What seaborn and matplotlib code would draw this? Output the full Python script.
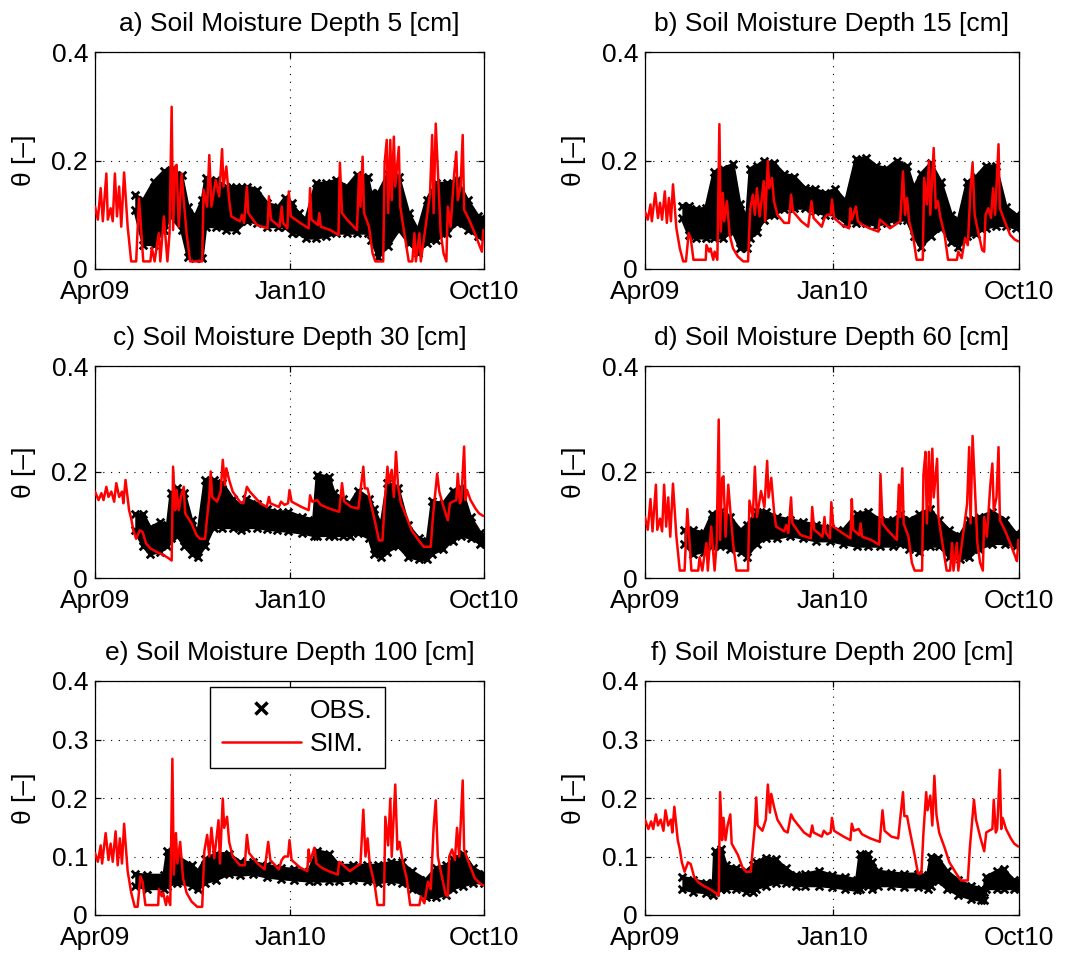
import numpy as np
import pandas as pd
import matplotlib
matplotlib.use("Agg")
import matplotlib.pyplot as plt
import matplotlib.dates as mdates
from matplotlib.lines import Line2D
from matplotlib.ticker import FuncFormatter
import seaborn as sns

# ---------------- data (days since 2009-04-01, soil moisture theta [-]) ----------------
# Simulated series (identical for depth pairs 5/60, 15/100 and 30/200 cm in the figure)
sim_ad_days = [0, 4, 8, 11, 16, 18, 22, 25, 28, 31, 34, 37, 41, 46, 51, 58, 62, 68, 78, 80,
               84, 87, 90, 92, 97, 102, 105, 108, 110, 113, 115, 118, 122, 125, 129, 134, 151, 153, 158, 161,
               164, 170, 175, 179, 181, 185, 189, 192, 204, 207, 210, 214, 216, 228, 243, 245, 248, 260, 263, 265,
               271, 273, 276, 289, 301, 303, 305, 314, 316, 318, 331, 343, 345, 348, 355, 369, 372, 374, 377, 379,
               386, 391, 395, 406, 408, 411, 413, 416, 418, 421, 423, 428, 430, 435, 442, 447, 450, 452, 457, 459,
               467, 472, 475, 477, 480, 484, 487, 491, 495, 497, 501, 506, 509, 511, 515, 518, 520, 527, 535, 542,
               545, 547]
sim_ad_vals = [.115, .091, .149, .088, .176, .091, .112, .088, .176, .097, .152, .078, .178, .078, .014, .014, .130, .014, .014, .039,
               .014, .042, .066, .014, .097, .014, .066, .299, .072, .189, .192, .078, .176, .127, .066, .014, .014, .146, .115, .210,
               .115, .164, .134, .221, .152, .189, .127, .097, .088, .100, .085, .152, .103, .081, .075, .134, .091, .078, .115, .085,
               .075, .143, .097, .085, .075, .149, .091, .081, .103, .078, .072, .063, .196, .103, .091, .072, .176, .115, .207, .103,
               .078, .029, .014, .014, .195, .238, .103, .238, .127, .244, .152, .225, .115, .072, .014, .014, .066, .014, .066, .014,
               .091, .140, .247, .103, .268, .152, .066, .029, .014, .115, .078, .176, .216, .127, .152, .247, .109, .091, .066, .042,
               .032, .072]

sim_be_days = [0, 4, 8, 10, 15, 19, 22, 25, 29, 32, 35, 38, 41, 46, 51, 56, 60, 64, 67, 71,
               89, 90, 94, 96, 100, 102, 106, 109, 111, 114, 116, 120, 124, 129, 136, 144, 151, 154, 158, 161,
               164, 168, 174, 176, 180, 182, 186, 189, 194, 204, 211, 214, 217, 229, 239, 244, 247, 259, 263, 267,
               272, 274, 277, 289, 299, 301, 303, 309, 312, 319, 329, 342, 344, 347, 359, 374, 378, 381, 384, 387,
               394, 398, 407, 409, 413, 416, 418, 423, 426, 429, 433, 439, 444, 457, 459, 464, 469, 473, 477, 480,
               483, 487, 494, 497, 499, 503, 507, 510, 513, 518, 520, 527, 535, 542, 547]
sim_be_vals = [.106, .091, .119, .088, .140, .094, .122, .091, .143, .085, .131, .088, .156, .075, .038, .014, .014, .066, .057, .017,
               .017, .044, .032, .038, .017, .032, .017, .267, .069, .140, .088, .125, .063, .038, .023, .014, .014, .109, .137, .100,
               .149, .097, .162, .088, .199, .149, .168, .125, .100, .085, .085, .137, .106, .088, .078, .125, .094, .078, .094, .100,
               .100, .128, .094, .081, .075, .112, .091, .115, .088, .081, .075, .069, .091, .088, .075, .088, .180, .100, .131, .088,
               .051, .017, .017, .168, .119, .199, .100, .223, .112, .125, .094, .063, .017, .017, .032, .020, .057, .044, .149, .196,
               .100, .075, .035, .032, .100, .112, .094, .149, .100, .230, .112, .088, .063, .054, .051]

sim_cf_days = [0, 5, 9, 12, 16, 19, 23, 27, 30, 34, 38, 40, 43, 48, 51, 54, 58, 63, 67, 72,
               78, 87, 97, 104, 108, 110, 113, 115, 118, 121, 125, 127, 136, 143, 148, 155, 158, 161, 163, 165,
               172, 177, 180, 183, 185, 189, 194, 204, 209, 214, 218, 233, 242, 245, 247, 259, 262, 267, 272, 274,
               277, 291, 301, 303, 306, 313, 318, 330, 344, 348, 351, 361, 371, 378, 380, 384, 388, 395, 400, 405,
               408, 412, 414, 418, 421, 424, 427, 431, 439, 446, 456, 463, 473, 476, 482, 485, 491, 497, 500, 504,
               509, 511, 514, 516, 520, 522, 524, 529, 536, 541, 547]
sim_cf_vals = [.163, .147, .160, .147, .172, .153, .163, .144, .179, .153, .163, .141, .185, .128, .112, .090, .074, .090, .087, .065,
               .056, .049, .043, .037, .033, .210, .128, .166, .128, .153, .172, .122, .103, .081, .074, .074, .115, .153, .201, .153,
               .144, .163, .223, .175, .207, .185, .163, .144, .141, .172, .163, .141, .134, .153, .141, .134, .144, .138, .141, .166,
               .144, .134, .128, .156, .144, .147, .138, .131, .125, .179, .144, .134, .131, .210, .169, .169, .144, .103, .071, .071,
               .141, .210, .179, .204, .153, .238, .172, .141, .115, .090, .071, .059, .059, .115, .197, .163, .134, .109, .141, .144,
               .147, .197, .141, .147, .248, .147, .166, .147, .131, .122, .117]

# Observations: upper / lower envelope of the dense observation band
obs_a_days = [56, 68, 83, 97, 107, 122, 131, 141, 151, 156, 170, 185, 199, 214, 228, 243, 258, 267, 277, 287,
              297, 311, 326, 340, 355, 369, 384, 389, 399, 413, 428, 442, 455, 467, 481, 496, 510, 525, 540, 552]
obs_a_hi = [.137, .127, .161, .180, .183, .174, .115, .097, .127, .167, .164, .152, .152, .152, .146, .121, .115, .130, .121, .103,
            .091, .158, .158, .164, .152, .174, .170, .140, .140, .176, .170, .103, .072, .127, .158, .158, .164, .127, .097, .094]
obs_a_lo = [.109, .045, .045, .072, .097, .072, .023, .020, .020, .078, .078, .072, .072, .088, .085, .078, .078, .078, .066, .066,
            .057, .057, .060, .066, .066, .066, .066, .054, .023, .042, .072, .048, .030, .048, .054, .066, .085, .072, .060, .060]

obs_b_days = [54, 64, 74, 89, 101, 114, 129, 139, 149, 154, 164, 174, 189, 204, 219, 234, 249, 264, 279, 294,
              309, 324, 339, 354, 369, 384, 394, 404, 419, 434, 449, 459, 472, 485, 499, 514, 529, 544, 552]
obs_b_hi = [.117, .117, .110, .112, .178, .185, .193, .120, .095, .185, .190, .199, .195, .175, .170, .150, .147, .140, .147, .125,
            .203, .205, .190, .185, .200, .190, .150, .175, .195, .160, .100, .090, .160, .170, .190, .190, .115, .100, .098]
obs_b_lo = [.094, .063, .057, .057, .057, .057, .069, .038, .038, .057, .069, .090, .100, .110, .112, .112, .106, .100, .100, .085,
            .085, .085, .080, .085, .090, .090, .060, .040, .060, .075, .050, .040, .060, .065, .075, .080, .080, .075, .078]

obs_c_days = [56, 68, 78, 92, 102, 107, 116, 126, 136, 145, 155, 167, 179, 194, 206, 213, 228, 242, 257, 272,
              291, 308, 313, 330, 337, 349, 359, 371, 386, 393, 403, 412, 427, 441, 456, 468, 475, 490, 504, 516,
              529, 543, 555]
obs_c_hi = [.120, .120, .095, .105, .100, .160, .170, .160, .110, .085, .185, .185, .180, .150, .135, .150, .140, .130, .125, .125,
            .115, .110, .195, .190, .160, .150, .140, .165, .150, .130, .100, .180, .170, .100, .075, .070, .145, .140, .165, .170,
            .115, .085, .078]
obs_c_lo = [.090, .060, .045, .050, .060, .075, .080, .060, .045, .040, .060, .095, .095, .095, .090, .095, .095, .092, .090, .088,
            .085, .080, .080, .080, .080, .080, .080, .085, .075, .045, .040, .050, .060, .040, .035, .035, .045, .055, .070, .080,
            .075, .065, .060]

obs_d_days = [57, 71, 86, 98, 110, 125, 140, 149, 164, 178, 193, 212, 232, 251, 271, 290, 310, 327, 344, 363,
              373, 387, 402, 417, 431, 446, 461, 475, 490, 509, 528, 543, 555]
obs_d_hi = [.090, .090, .085, .120, .125, .115, .090, .100, .125, .125, .115, .110, .105, .100, .095, .090, .120, .125, .110, .110,
            .120, .110, .120, .130, .110, .090, .080, .110, .115, .125, .110, .085, .080]
obs_d_lo = [.065, .045, .050, .060, .060, .055, .050, .040, .065, .075, .075, .080, .075, .070, .070, .065, .060, .060, .060, .060,
            .065, .055, .050, .060, .060, .040, .035, .040, .055, .065, .065, .060, .060]

obs_e_days = [56, 73, 97, 102, 116, 136, 145, 155, 170, 189, 204, 223, 242, 262, 281, 301, 313, 330, 344, 364,
              383, 398, 417, 432, 446, 466, 480, 495, 504, 519, 533, 548, 558]
obs_e_hi = [.070, .068, .068, .110, .100, .085, .075, .095, .105, .105, .090, .090, .085, .080, .078, .075, .110, .105, .085, .085,
            .085, .085, .090, .090, .075, .060, .080, .085, .095, .105, .080, .070, .068]
obs_e_lo = [.050, .045, .045, .050, .055, .050, .045, .055, .060, .070, .068, .070, .065, .062, .060, .058, .058, .058, .058, .060,
            .058, .055, .058, .055, .045, .030, .030, .035, .045, .050, .055, .055, .055]

obs_f_days = [54, 71, 90, 100, 102, 112, 119, 134, 148, 158, 163, 177, 192, 206, 221, 235, 255, 274, 293, 310,
              315, 327, 332, 342, 361, 380, 400, 414, 419, 429, 443, 458, 477, 492, 497, 499, 516, 526, 540, 554]
obs_f_hi = [.065, .060, .055, .055, .110, .112, .085, .080, .075, .085, .090, .098, .095, .080, .068, .070, .075, .068, .065, .060,
            .105, .105, .090, .075, .072, .070, .070, .068, .100, .098, .075, .060, .050, .045, .040, .065, .075, .078, .060, .060]
obs_f_lo = [.045, .040, .038, .035, .040, .045, .045, .045, .040, .040, .045, .050, .055, .055, .050, .050, .050, .048, .045, .042,
            .045, .050, .045, .050, .050, .048, .048, .045, .050, .058, .045, .035, .028, .025, .025, .045, .045, .045, .045, .040]

titles = ["a) Soil Moisture Depth 5 [cm]", "b) Soil Moisture Depth 15 [cm]",
          "c) Soil Moisture Depth 30 [cm]", "d) Soil Moisture Depth 60 [cm]",
          "e) Soil Moisture Depth 100 [cm]", "f) Soil Moisture Depth 200 [cm]"]
x_tick_dates = ["2009-04-01", "2010-01-01", "2010-10-01"]
y_ticks_coarse = [0, 0.2, 0.4]
y_ticks_fine = [0, 0.1, 0.2, 0.3, 0.4]
legend_labels = ["OBS.", "SIM."]

# ---------------- style ----------------
sns.set_theme(style="white")
plt.rcParams["font.family"] = ["Liberation Sans", "DejaVu Sans"]
plt.rcParams["text.color"] = "black"
plt.rcParams["axes.labelcolor"] = "black"
plt.rcParams["xtick.color"] = "black"
plt.rcParams["ytick.color"] = "black"
plt.rcParams["axes.unicode_minus"] = False

START = pd.Timestamp("2009-04-01")
END = pd.Timestamp("2010-10-01")


def to_dates(days):
    return START + pd.to_timedelta(np.asarray(days, dtype=float), unit="D")


panels = [
    (titles[0], obs_a_days, obs_a_hi, obs_a_lo, sim_ad_days, sim_ad_vals, y_ticks_coarse),
    (titles[1], obs_b_days, obs_b_hi, obs_b_lo, sim_be_days, sim_be_vals, y_ticks_coarse),
    (titles[2], obs_c_days, obs_c_hi, obs_c_lo, sim_cf_days, sim_cf_vals, y_ticks_coarse),
    (titles[3], obs_d_days, obs_d_hi, obs_d_lo, sim_ad_days, sim_ad_vals, y_ticks_coarse),
    (titles[4], obs_e_days, obs_e_hi, obs_e_lo, sim_be_days, sim_be_vals, y_ticks_fine),
    (titles[5], obs_f_days, obs_f_hi, obs_f_lo, sim_cf_days, sim_cf_vals, y_ticks_fine),
]

W, H = 1075, 958
col_x = [(95, 484), (645, 1019)]
row_y = [(52, 269), (366, 578), (681, 915)]
positions = []
for r in range(3):
    for c in range(2):
        x0, x1 = col_x[c]
        y0, y1 = row_y[r]
        positions.append([x0 / W, 1 - y1 / H, (x1 - x0) / W, (y1 - y0) / H])

FS = 19
fig = plt.figure(figsize=(W / 100, H / 100), dpi=100)
fig.patch.set_facecolor("white")

axes = []
for (title, od, oh, ol, sd, sv, yt), pos in zip(panels, positions):
    ax = fig.add_axes(pos)
    axes.append(ax)
    t = to_dates(od)
    oh = np.asarray(oh)
    ol = np.asarray(ol)
    ax.fill_between(t, ol, oh, color="black", linewidth=0, zorder=2)
    for env in (oh, ol):
        sns.lineplot(x=t, y=env, color="black", linewidth=2.2, ax=ax, zorder=2,
                     estimator=None, sort=False, legend=False)
    sns.scatterplot(x=np.concatenate([t.values, t.values]), y=np.concatenate([oh, ol]),
                    marker="x", color="black", s=30, linewidth=2.0, ax=ax, zorder=3, legend=False)
    sns.lineplot(x=to_dates(sd), y=np.asarray(sv), color="red", linewidth=1.8, ax=ax,
                 zorder=4, estimator=None, sort=False, legend=False)

    ax.set_xlim(START, END)
    ax.set_ylim(0, 0.4)
    ax.set_xticks(pd.to_datetime(x_tick_dates))
    ax.xaxis.set_major_formatter(mdates.DateFormatter("%b%y"))
    ax.set_yticks(yt)
    ax.yaxis.set_major_formatter(FuncFormatter(lambda v, p: f"{v:g}"))
    ax.set_axisbelow(True)
    ax.grid(True, color="black", linestyle=(0, (1, 6)), linewidth=0.8)
    ax.tick_params(direction="in", length=4, width=0.9, top=True, right=True,
                   bottom=True, left=True, labelsize=FS, colors="black")
    ax.tick_params(axis="x", pad=8)
    ax.tick_params(axis="y", pad=5)
    for s in ax.spines.values():
        s.set_visible(True)
        s.set_color("black")
        s.set_linewidth(0.9)
    ax.set_title(title, fontsize=FS, pad=15, color="black")
    ax.set_ylabel("θ [–]", fontsize=FS, labelpad=11)
    ax.set_xlabel("")

handles = [Line2D([], [], marker="x", color="black", linestyle="none", markersize=9, markeredgewidth=2.5),
           Line2D([], [], color="red", linewidth=1.8)]
leg = axes[4].legend(handles, legend_labels, loc="upper center", bbox_to_anchor=(0.52, 0.975),
                     fontsize=FS, frameon=True, fancybox=False, edgecolor="black", framealpha=1,
                     handlelength=3.0, handletextpad=0.35, labelspacing=0.35, borderpad=0.45,
                     borderaxespad=0)
leg.get_frame().set_linewidth(1.0)
leg.set_zorder(10)

fig.savefig("out.png", dpi=100, facecolor="white")
